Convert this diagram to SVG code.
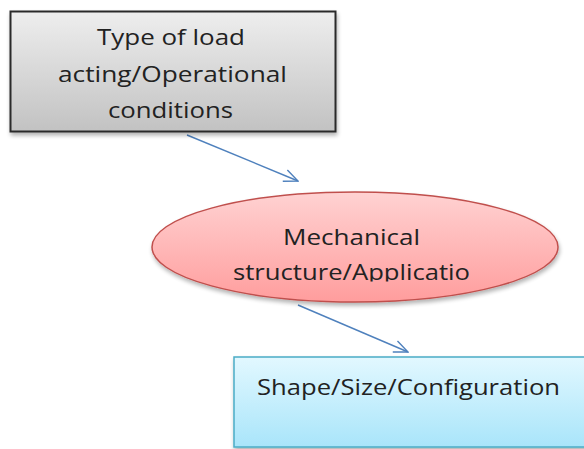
<svg xmlns="http://www.w3.org/2000/svg" width="584" height="449" viewBox="0 0 584 449">
  <defs>
    <linearGradient id="gradGray" x1="0" y1="0" x2="0" y2="1">
      <stop offset="0" stop-color="#eeeeee"/>
      <stop offset="1" stop-color="#c2c2c2"/>
    </linearGradient>
    <linearGradient id="gradRed" x1="0" y1="0" x2="0" y2="1">
      <stop offset="0" stop-color="#ffd2d2"/>
      <stop offset="1" stop-color="#ff9d9d"/>
    </linearGradient>
    <linearGradient id="gradBlue" x1="0" y1="0" x2="0" y2="1">
      <stop offset="0" stop-color="#e2f8ff"/>
      <stop offset="1" stop-color="#a9e5fa"/>
    </linearGradient>
    <filter id="shadow" x="-10%" y="-10%" width="130%" height="140%">
      <feGaussianBlur in="SourceAlpha" stdDeviation="2"/>
      <feOffset dx="1" dy="3" result="b"/>
      <feComponentTransfer><feFuncA type="linear" slope="0.3"/></feComponentTransfer>
      <feMerge><feMergeNode/><feMergeNode in="SourceGraphic"/></feMerge>
    </filter>
    <marker id="arrowOpen" markerUnits="userSpaceOnUse" markerWidth="16" markerHeight="14" refX="15" refY="7" orient="auto">
      <path d="M1,1 L15,7 L1,13" fill="none" stroke="#4f81bd" stroke-width="1.4"/>
    </marker>
    <!-- text frame of the ellipse; lower descenders fall outside it -->
    <clipPath id="ellipseText">
      <rect x="150" y="200" width="330" height="81.5"/>
    </clipPath>
  </defs>
  <style>
    .label { font-family: "Open Sans", "Liberation Sans", sans-serif; font-size: 21px; fill: #222222; }
    .conn { fill: none; stroke: #4f81bd; stroke-width: 1.4; marker-end: url(#arrowOpen); }
  </style>

  <g id="connectors">
    <line class="conn" x1="187" y1="135" x2="298" y2="181"/>
    <line class="conn" x1="298" y1="305" x2="408" y2="352"/>
  </g>

  <g id="node-load">
    <rect x="10.5" y="11.5" width="325" height="120" fill="url(#gradGray)" stroke="#2b2b2b" stroke-width="2" filter="url(#shadow)"/>
    <text class="label" x="97" y="45" textLength="148" lengthAdjust="spacingAndGlyphs">Type of load</text>
    <text class="label" x="58" y="82" textLength="229" lengthAdjust="spacingAndGlyphs">acting/Operational</text>
    <text class="label" x="108" y="118" textLength="125" lengthAdjust="spacingAndGlyphs">conditions</text>
  </g>

  <g id="node-structure">
    <ellipse cx="355" cy="247" rx="203" ry="55" fill="url(#gradRed)" stroke="#c0504d" stroke-width="1.5" filter="url(#shadow)"/>
    <g clip-path="url(#ellipseText)">
      <text class="label" x="283" y="245" textLength="137" lengthAdjust="spacingAndGlyphs">Mechanical</text>
      <text class="label" x="233" y="280" textLength="237" lengthAdjust="spacingAndGlyphs">structure/Applicatio</text>
    </g>
  </g>

  <g id="node-shape">
    <rect x="234" y="357" width="365" height="90" fill="url(#gradBlue)" stroke="#4bacc6" stroke-width="1.5" filter="url(#shadow)"/>
    <text class="label" x="257" y="395" textLength="303" lengthAdjust="spacingAndGlyphs">Shape/Size/Configuration</text>
  </g>
</svg>
